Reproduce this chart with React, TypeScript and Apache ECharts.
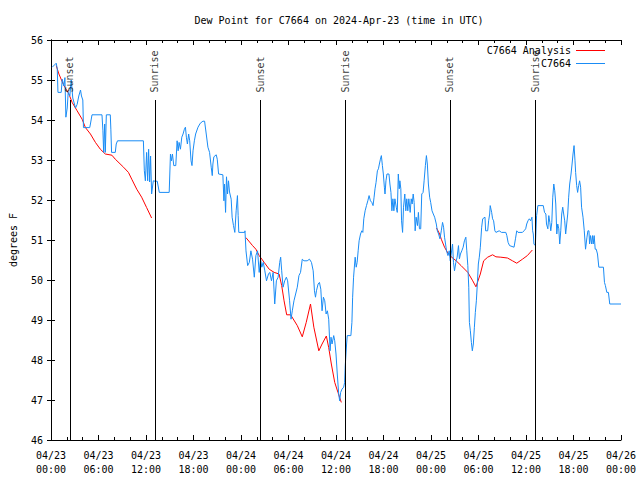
import React, { useEffect, useRef } from "react";
import * as echarts from "echarts";

// Observations (hours since 2024-04-23 00:00 UTC, dew point °F)
const obsHours = [
  0.16, 0.66, 0.79, 0.88, 1.29, 1.42, 1.63, 1.76, 1.88, 2.05, 2.17, 2.38, 2.55, 2.75, 3.1, 3.3, 3.51, 3.73, 3.85, 4.02,
  4.1, 4.89, 4.98, 5.18, 6.44, 6.56, 6.65, 6.78, 6.86, 6.99, 7.49, 7.56, 7.65, 8.12, 8.24, 8.4, 11.67, 11.79, 11.92, 12.08,
  12.21, 12.33, 12.46, 12.58, 12.71, 12.92, 13.13, 13.42, 13.68, 14.93, 15.09, 15.22, 15.34, 15.51, 15.76, 15.93, 16.06, 16.18, 16.35, 16.52,
  16.68, 16.85, 16.98, 17.1, 17.23, 17.39, 17.52, 17.69, 17.81, 17.94, 18.11, 18.27, 18.57, 18.86, 19.19, 19.4, 19.61, 19.82, 20.03, 20.24,
  20.37, 20.45, 20.57, 20.87, 21.0, 21.17, 21.71, 21.84, 21.92, 22.05, 22.17, 22.3, 22.42, 22.55, 22.76, 22.88, 23.05, 23.22, 23.39, 23.55,
  23.64, 23.72, 24.47, 24.5, 24.63, 24.84, 25.05, 25.25, 25.46, 25.68, 25.88, 26.09, 26.3, 26.47, 26.63, 26.81, 27.01, 27.22, 27.47, 27.64,
  27.85, 28.06, 28.26, 28.47, 28.69, 28.89, 29.01, 29.14, 29.31, 29.52, 29.73, 29.89, 30.14, 30.32, 30.48, 30.69, 30.9, 31.11, 31.32, 31.52,
  31.74, 31.95, 32.36, 32.65, 32.9, 33.12, 33.28, 33.41, 33.53, 33.74, 33.91, 34.08, 34.24, 34.41, 34.58, 34.75, 34.91, 35.08, 35.25, 35.37,
  35.5, 35.71, 35.84, 36.0, 36.16, 36.34, 36.46, 36.59, 36.75, 36.97, 37.09, 37.17, 37.34, 37.42, 37.88, 38.01, 38.1, 38.22, 38.35, 38.42,
  38.55, 38.67, 38.8, 38.92, 39.1, 39.26, 39.39, 39.51, 39.68, 39.85, 40.02, 40.18, 40.35, 40.52, 40.68, 40.81, 40.93, 41.06, 41.23, 41.36,
  41.48, 41.61, 41.73, 41.86, 41.98, 42.11, 42.19, 42.31, 42.44, 42.69, 42.81, 42.94, 43.06, 43.19, 43.31, 43.44, 43.61, 43.74, 43.87, 43.99,
  44.07, 44.19, 44.28, 44.41, 44.53, 44.69, 44.82, 44.94, 45.07, 45.2, 45.37, 45.5, 45.62, 45.75, 45.87, 46.0, 46.12, 46.29, 46.41, 46.54,
  46.7, 46.83, 47.0, 47.13, 47.29, 47.42, 47.54, 47.67, 47.83, 47.96, 48.13, 48.29, 48.46, 48.67, 48.8, 48.96, 49.13, 49.3, 49.46, 49.59,
  49.71, 49.84, 49.96, 50.14, 50.3, 50.43, 50.55, 50.72, 50.84, 50.97, 51.14, 51.3, 51.47, 51.59, 51.72, 51.89, 52.06, 52.22, 52.4, 52.52,
  52.65, 52.77, 52.85, 52.97, 53.1, 53.22, 53.35, 53.48, 53.6, 53.73, 53.85, 53.98, 54.1, 54.23, 54.4, 54.53, 54.82, 54.9, 55.16, 55.28,
  55.41, 55.48, 55.66, 55.78, 55.91, 56.07, 56.2, 56.61, 56.91, 57.45, 57.58, 57.74, 57.92, 58.49, 58.67, 58.83, 58.99, 59.55, 59.75, 59.96,
  60.09, 60.25, 60.42, 60.59, 60.75, 60.84, 60.92, 61.0, 61.18, 61.34, 61.5, 62.18, 62.34, 62.51, 62.59, 62.76, 62.88, 63.01, 63.13, 63.26,
  63.38, 63.51, 63.63, 63.76, 63.89, 64.01, 64.14, 64.26, 64.39, 64.51, 64.64, 64.76, 64.89, 65.01, 65.14, 65.27, 65.39, 65.52, 65.69, 65.82,
  65.94, 66.07, 66.19, 66.27, 66.4, 66.52, 66.65, 66.77, 66.9, 67.02, 67.2, 67.36, 67.52, 67.7, 67.82, 67.95, 68.03, 68.15, 68.28, 68.4,
  68.49, 68.61, 68.74, 68.87, 69.03, 69.2, 69.78, 69.91, 70.03, 70.21, 70.41, 70.58, 71.88, 72.0,
];
const obsDewpt = [
  55.32, 55.42, 55.28, 54.69, 54.69, 55.02, 54.85, 55.06, 54.07, 54.3, 54.69, 54.6, 55.0, 54.55, 54.3, 54.39, 54.6, 54.75, 54.6, 54.5,
  53.81, 53.81, 53.9, 54.13, 54.13, 53.73, 53.19, 53.9, 53.19, 54.13, 54.13, 53.77, 53.19, 53.19, 53.4, 53.48, 53.48, 52.73, 52.48, 53.19,
  52.48, 53.27, 52.45, 53.1, 52.15, 52.48, 52.47, 52.47, 52.19, 52.19, 53.15, 52.98, 53.15, 52.86, 52.86, 53.48, 53.23, 53.44, 53.27, 53.57,
  53.65, 53.77, 53.82, 53.57, 53.4, 53.65, 53.48, 52.98, 52.86, 53.23, 53.48, 53.65, 53.82, 53.92, 53.97, 53.97, 53.65, 53.32, 53.19, 52.82,
  52.61, 52.9, 53.08, 53.13, 53.02, 52.65, 52.63, 51.98, 52.4, 51.69, 52.58, 52.15, 52.48, 52.2, 52.02, 51.57, 51.36, 51.19, 51.73, 52.11,
  51.61, 51.19, 51.19, 51.23, 50.73, 50.36, 50.44, 50.73, 50.52, 50.07, 50.61, 50.73, 50.19, 50.52, 50.32, 50.44, 50.23, 49.98, 50.15, 50.19,
  49.98, 50.19, 49.4, 49.98, 50.07, 50.44, 50.57, 50.23, 49.82, 49.98, 50.07, 49.98, 49.48, 49.02, 49.23, 49.48, 49.65, 49.82, 50.11, 50.19,
  50.52, 50.48, 50.48, 50.52, 50.44, 50.23, 49.73, 49.57, 49.73, 49.9, 49.94, 49.77, 49.23, 49.57, 49.48, 49.15, 49.23, 49.02, 48.23, 48.57,
  48.4, 48.61, 48.48, 48.15, 47.65, 47.15, 46.98, 47.19, 47.27, 47.32, 47.44, 47.86, 48.4, 48.61, 48.61, 48.94, 49.57, 50.07, 50.4, 50.57,
  50.32, 50.44, 50.73, 50.98, 51.15, 51.23, 51.19, 51.53, 51.73, 51.86, 51.98, 52.11, 51.98, 51.94, 51.86, 52.07, 52.28, 52.44, 52.73, 52.78,
  52.9, 53.02, 53.11, 52.86, 52.65, 52.32, 52.15, 52.48, 52.65, 52.65, 52.4, 52.19, 51.73, 52.03, 51.73, 52.03, 51.82, 51.69, 52.65, 52.28,
  52.48, 52.28, 51.48, 51.19, 51.82, 52.15, 51.73, 52.03, 51.73, 52.03, 51.69, 52.03, 51.9, 52.15, 51.94, 51.23, 51.57, 51.36, 51.69, 51.28,
  51.28, 52.15, 52.19, 52.48, 52.86, 53.11, 52.9, 52.4, 52.07, 51.94, 51.73, 51.65, 51.57, 51.4, 51.23, 51.15, 51.03, 51.23, 51.44, 51.32,
  51.07, 50.9, 50.73, 50.61, 50.73, 50.48, 50.65, 50.9, 50.44, 50.23, 50.44, 50.57, 50.86, 50.53, 50.65, 50.73, 50.82, 50.98, 51.07, 50.73,
  50.36, 49.82, 48.94, 48.73, 48.44, 48.23, 48.4, 48.82, 49.19, 49.48, 49.9, 50.4, 50.57, 50.82, 51.32, 51.53, 51.57, 51.23, 51.23, 51.48,
  51.65, 51.86, 51.69, 51.53, 51.48, 51.23, 51.19, 51.23, 51.19, 51.19, 51.11, 50.94, 50.86, 50.82, 51.03, 51.23, 51.19, 51.19, 51.23, 51.28,
  51.4, 51.48, 51.53, 51.48, 51.57, 51.23, 51.15, 50.9, 50.86, 51.61, 51.86, 51.86, 51.69, 51.65, 51.4, 51.28, 51.61, 51.44, 51.23, 51.44,
  52.07, 52.4, 52.23, 51.9, 51.15, 51.4, 51.28, 50.9, 51.23, 51.65, 51.82, 51.65, 51.48, 51.15, 51.4, 51.65, 52.07, 52.4, 52.65, 52.9,
  53.15, 53.36, 52.98, 52.69, 52.36, 52.19, 52.36, 52.48, 52.32, 51.82, 51.57, 51.23, 50.77, 51.07, 51.23, 51.23, 50.9, 51.11, 50.9, 51.11,
  50.9, 51.11, 50.77, 50.77, 50.65, 50.32, 50.32, 49.94, 49.86, 49.69, 49.69, 49.4, 49.4, 49.4,
];

// Analysis (null separates the three segments)
const anaHours = [
  0.66, 1.0, 1.63, 2.26, 2.67, 3.3, 3.93, 4.35, 4.98, 5.61, 6.23, 6.86, 7.69, 8.12, 9.16, 9.78, 10.2, 10.83, 11.45, 12.08, 12.71,
  18.0,
  24.62, 25.46, 25.88, 26.3, 26.93, 27.56, 28.19, 28.81, 29.14, 29.44, 29.77, 30.27, 31.11, 31.74, 32.24, 32.78, 33.2, 33.83, 34.24,
  34.78, 35.08, 35.41, 35.84, 36.25, 36.67,
  42.0,
  48.7, 49.09, 49.3, 49.71, 50.14, 50.55, 51.18, 51.8, 52.65, 53.27, 53.68, 54.23, 54.65, 55.16, 55.78, 56.2, 56.82, 57.66, 58.29,
  58.83, 59.55, 60.17, 60.8,
];
const anaDewpt: (number | null)[] = [
  55.36, 55.15, 54.86, 54.65, 54.44, 54.23, 54.02, 53.81, 53.65, 53.44, 53.27, 53.15, 53.12, 53.02, 52.82, 52.69, 52.52, 52.27, 52.07, 51.81, 51.55,
  null,
  51.06, 50.86, 50.77, 50.61, 50.44, 50.27, 50.19, 50.15, 49.86, 49.48, 49.13, 49.13, 48.86, 48.58, 48.94, 49.4, 48.82, 48.23, 48.4,
  48.6, 48.31, 47.9, 47.44, 47.19, 46.94,
  null,
  51.3, 51.15, 51.02, 50.82, 50.67, 50.58, 50.48, 50.36, 50.19, 49.98, 49.83, 50.15, 50.48, 50.57, 50.63, 50.58, 50.57, 50.55, 50.48,
  50.42, 50.52, 50.61, 50.75,
];

// Sunrise / sunset markers
const eventHours = [2.38, 13.12, 26.42, 37.22, 50.38, 61.18];
const eventNames = ["Sunset", "Sunrise", "Sunset", "Sunrise", "Sunset", "Sunrise"];

const monthLabel = "04";
const startDay = 23;
const yTicks = [46, 56];

const FONT = "DejaVu Sans Mono";

export default function App() {
  const ref = useRef<HTMLDivElement>(null);

  useEffect(() => {
    if (!ref.current) return;
    const chart = echarts.init(ref.current, undefined, { renderer: "svg" });
    const pad = (n: number) => (n < 10 ? "0" + n : "" + n);
    const xFmt = (v: number) => {
      const d = startDay + Math.floor(v / 24);
      const h = Math.round(v % 24);
      return `${monthLabel}/${pad(d)}\n${pad(h)}:00`;
    };
    const axisLine = { show: true, lineStyle: { color: "#000", width: 1 } };
    const tick = { show: true, inside: true, length: 5, lineStyle: { color: "#000" } };
    const minor = { show: true, splitNumber: 3, length: 3, lineStyle: { color: "#000" } };
    const labelStyle = { color: "#000", fontFamily: FONT, fontSize: 10 };

    chart.setOption({
      animation: false,
      backgroundColor: "#fff",
      title: {
        text: "Dew Point for C7664 on 2024-Apr-23 (time in UTC)",
        left: 334,
        top: 10,
        textAlign: "center",
        textStyle: { color: "#000", fontFamily: FONT, fontSize: 10, fontWeight: "normal" },
      },
      legend: {
        data: ["C7664 Analysis", "C7664"],
        orient: "vertical",
        right: 30,
        top: 39,
        align: "right",
        icon: "rect",
        itemWidth: 29,
        itemHeight: 1,
        itemGap: 0,
        textStyle: { color: "#000", fontFamily: FONT, fontSize: 10, lineHeight: 13 },
      },
      grid: { left: 47, right: 19, top: 40, bottom: 40, containLabel: false },
      xAxis: [
        {
          type: "value",
          min: 0,
          max: 72,
          interval: 6,
          axisLine,
          axisTick: tick,
          minorTick: minor,
          splitLine: { show: false },
          axisLabel: { ...labelStyle, formatter: xFmt, margin: 8, lineHeight: 14 },
        },
        {
          type: "value",
          position: "top",
          min: 0,
          max: 72,
          interval: 6,
          axisLine,
          axisTick: tick,
          minorTick: minor,
          splitLine: { show: false },
          axisLabel: { show: false },
        },
      ],
      yAxis: [
        {
          type: "value",
          min: yTicks[0],
          max: yTicks[1],
          interval: 1,
          name: "degrees F",
          nameLocation: "middle",
          nameGap: 33,
          nameTextStyle: { color: "#000", fontFamily: FONT, fontSize: 10 },
          axisLine,
          axisTick: { ...tick, length: 4 },
          splitLine: { show: false },
          axisLabel: { ...labelStyle, margin: 8 },
        },
        {
          type: "value",
          position: "right",
          min: yTicks[0],
          max: yTicks[1],
          interval: 1,
          axisLine,
          axisTick: { ...tick, length: 4 },
          splitLine: { show: false },
          axisLabel: { show: false },
        },
      ],
      series: [
        {
          name: "C7664 Analysis",
          type: "line",
          data: anaHours.map((h, i) => [h, anaDewpt[i] === null ? "-" : anaDewpt[i]]),
          showSymbol: false,
          symbol: "none",
          connectNulls: false,
          lineStyle: { color: "#ff0000", width: 1 },
          itemStyle: { color: "#ff0000" },
          z: 2,
        },
        {
          name: "C7664",
          type: "line",
          data: obsHours.map((h, i) => [h, obsDewpt[i]]),
          showSymbol: false,
          symbol: "none",
          lineStyle: { color: "#1a8cf5", width: 1 },
          itemStyle: { color: "#1a8cf5" },
          z: 3,
        },
        {
          name: "events",
          type: "scatter",
          symbolSize: 0,
          silent: true,
          z: 4,
          data: eventHours.map((h, i) => ({ name: eventNames[i], value: [h, 54.66] })),
          label: {
            show: true,
            position: "inside",
            formatter: "{b}",
            rotate: 90,
            align: "left",
            verticalAlign: "middle",
            offset: [1, 0],
            color: "#000",
            fontFamily: FONT,
            fontSize: 10,
          },
          markLine: {
            silent: true,
            symbol: ["none", "none"],
            label: { show: false },
            lineStyle: { color: "#000", width: 1, type: "solid" },
            data: eventHours.map((h) => [{ coord: [h, 46] }, { coord: [h, 54.5] }]),
          },
        },
      ],
    });
    return () => chart.dispose();
  }, []);

  return <div ref={ref} style={{ width: 640, height: 480, position: "absolute", left: 0, top: 0 }} />;
}
